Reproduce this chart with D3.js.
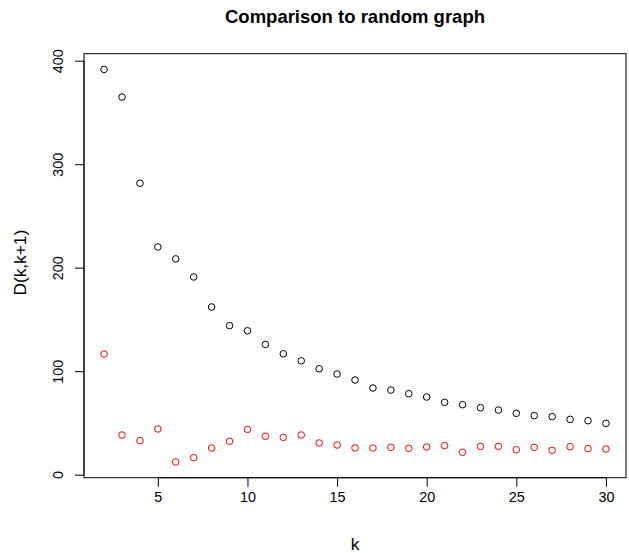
<!DOCTYPE html>
<html>
<head>
<meta charset="utf-8">
<script src="https://cdn.jsdelivr.net/npm/d3@7"></script>
<style>
  html, body { margin: 0; padding: 0; background: #fff; }
  svg { display: block; font-family: "Liberation Sans", Arial, Helvetica, sans-serif; }
</style>
</head>
<body>
<svg id="chart" width="629" height="553"></svg>
<script>
// ---- data ----
const kValues = [2,3,4,5,6,7,8,9,10,11,12,13,14,15,16,17,18,19,20,21,22,23,24,25,26,27,28,29,30];
const observed = [391.6,364.9,281.6,220,208.5,191,162,144,139,125.8,116.8,110,102.3,97.2,91.4,83.7,81.7,78.2,75,69.8,67.6,64.7,62.4,59.2,57,56,53.4,52.1,49.5];
const randomGraph = [116.5,38.3,32.8,44.1,12.2,16.4,25.7,32.2,43.7,37,36,38.3,30.6,28.6,25.8,25.7,26.4,25.4,26.7,28,21.5,27.3,27.3,24.1,26.4,23.5,27,25.1,24.8];
const xTicks = [5,10,15,20,25,30];
const yTicks = [0,100,200,300,400];
const title = "Comparison to random graph";
const xLabel = "k";
const yLabel = "D(k,k+1)";

// ---- layout ----
const box = { left: 84, right: 626, top: 53.7, bottom: 477.7 };
const svg = d3.select("#chart");

function padded(ext) {
  const r = ext[1] - ext[0];
  return [ext[0] - 0.04 * r, ext[1] + 0.04 * r];
}
const allY = observed.concat(randomGraph);
const x = d3.scaleLinear().domain(padded(d3.extent(kValues))).range([box.left, box.right]);
const y = d3.scaleLinear().domain(padded(d3.extent(allY))).range([box.bottom, box.top]);

// box
svg.append("rect")
  .attr("x", box.left).attr("y", box.top)
  .attr("width", box.right - box.left).attr("height", box.bottom - box.top)
  .attr("fill", "none").attr("stroke", "#000").attr("stroke-width", 1);

// x axis
const xAxis = d3.axisBottom(x).tickValues(xTicks).tickSize(9).tickPadding(5).tickFormat(d3.format("d"));
const gx = svg.append("g").attr("transform", `translate(0,${box.bottom})`).call(xAxis);
gx.select(".domain").attr("d", `M${x(xTicks[0])},0H${x(xTicks[xTicks.length-1])}`);
gx.selectAll("text").attr("font-size", "14.4px").attr("fill", "#000").attr("dy", "0.75em")
  .attr("font-family", "'Liberation Sans', Arial, sans-serif");

// y axis
const yAxis = d3.axisLeft(y).tickValues(yTicks).tickSize(9).tickPadding(0).tickFormat(d3.format("d"));
const gy = svg.append("g").attr("transform", `translate(${box.left},0)`).call(yAxis);
gy.select(".domain").attr("d", `M0,${y(yTicks[0])}V${y(yTicks[yTicks.length-1])}`);
gy.selectAll(".tick text")
  .attr("font-size", "14.4px").attr("fill", "#000")
  .attr("font-family", "'Liberation Sans', Arial, sans-serif")
  .attr("x", null).attr("dy", null)
  .attr("text-anchor", "middle")
  .attr("transform", "translate(-21,0) rotate(-90)");

// points
const pts = svg.append("g");
pts.selectAll("circle.obs").data(kValues.map((k, i) => [k, observed[i]])).enter()
  .append("circle").attr("class", "obs")
  .attr("cx", d => x(d[0])).attr("cy", d => y(d[1])).attr("r", 3.3)
  .attr("fill", "none").attr("stroke", "#000").attr("stroke-width", 1);
pts.selectAll("circle.rnd").data(kValues.map((k, i) => [k, randomGraph[i]])).enter()
  .append("circle").attr("class", "rnd")
  .attr("cx", d => x(d[0])).attr("cy", d => y(d[1])).attr("r", 3.3)
  .attr("fill", "none").attr("stroke", "#FF0000").attr("stroke-width", 1);

// titles
const cx = (box.left + box.right) / 2;
const cy = (box.top + box.bottom) / 2;
svg.append("text").attr("x", cx).attr("y", 22.6).attr("text-anchor", "middle")
  .attr("font-size", "18.5px").attr("font-weight", "bold").text(title);
svg.append("text").attr("x", cx).attr("y", 550).attr("text-anchor", "middle")
  .attr("font-size", "17.3px").text(xLabel);
svg.append("text").attr("transform", `translate(26,${cy - 3}) rotate(-90)`).attr("text-anchor", "middle")
  .attr("font-size", "17.3px").text(yLabel);
</script>
</body>
</html>
